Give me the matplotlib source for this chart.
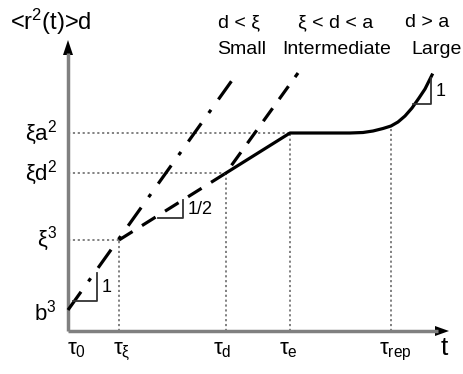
import matplotlib
matplotlib.use("Agg")
import matplotlib.pyplot as plt

plt.rcParams['font.family'] = ['Liberation Sans', 'DejaVu Sans']
plt.rcParams['mathtext.fontset'] = 'custom'
plt.rcParams['mathtext.rm'] = 'Liberation Sans'
plt.rcParams['mathtext.it'] = 'Liberation Sans'

# characteristic times (x positions, log scale units)
tau_labels = [r'$\mathregular{\tau_0}$', r'$\mathregular{\tau_\xi}$', r'$\mathregular{\tau_d}$',
              r'$\mathregular{\tau_e}$', r'$\mathregular{\tau_{rep}}$']
tau_pos = [0, 51, 158, 222, 323]

# characteristic levels (y positions)
level_labels = [r'$\mathregular{b^3}$', r'$\mathregular{\xi^3}$',
                r'$\mathregular{\xi d^2}$', r'$\mathregular{\xi a^2}$']
level_pos = [21, 91, 158, 198]

# regime headers
regime_cond = ['d < ξ', 'ξ < d < a', 'd > a']
regime_name = ['Small', 'Intermediate', 'Large']
regime_x = [171, 268, 359]
regime_name_x = [174, 269, 369]

# curves
dashdot_x = [0, 165]
dashdot_y = [21, 252]
dashed_x = [51, 158, 230]
dashed_y = [91, 158, 258]
solid_x = [158, 222, 282, 295, 305, 315, 323, 330, 337, 344, 351, 357, 364]
solid_y = [158, 198, 198, 198.5, 200, 202.5, 205, 209, 215, 223, 233, 242, 256]

# slope triangles: (x0, x1, y0, y1, label)
tri = [(5, 29, 30, 58, '1'), (90, 115, 113, 131, '1/2'), (345, 363, 227, 253, '1')]

fig = plt.figure(figsize=(4.64, 3.74), dpi=100)
ax = fig.add_axes([0, 0, 1, 1])
ax.set_xlim(-68, 396)
ax.set_ylim(-43, 331)
ax.axis('off')

# guide dotted lines
dot_kw = dict(color='#777777', lw=1.3, ls=(0, (1.2, 1.5)))
ax.plot([0, 51], [91, 91], **dot_kw)
ax.plot([0, 158], [158, 158], **dot_kw)
ax.plot([0, 222], [198, 198], **dot_kw)
ax.plot([51, 51], [0, 91], **dot_kw)
ax.plot([158, 158], [0, 158], **dot_kw)
ax.plot([222, 222], [0, 198], **dot_kw)
ax.plot([323, 323], [0, 205], **dot_kw)

# axes with arrows
ax.plot([0, 0], [0, 278], color='#808080', lw=2.5, solid_capstyle='butt')
ax.plot([0, 370], [0, 0], color='#808080', lw=2.5, solid_capstyle='butt')
ax.fill([-5, 5, 0], [276, 276, 291], color='black', lw=0)
ax.fill([367, 367, 381], [-5, 5, 0], color='black', lw=0)

# curves
ax.plot(dashdot_x, dashdot_y, color='black', lw=2.3, ls=(0, (7, 4, 1.2, 4)))
ax.plot(dashed_x, dashed_y, color='black', lw=2.3, ls=(0, (5, 3.5)))
ax.plot(solid_x, solid_y, color='black', lw=2.3, solid_joinstyle='round')

for x0, x1, y0, y1, lab in tri:
    ax.plot([x0, x1, x1], [y0, y0, y1], color='#333333', lw=1.3)
    ax.text(x1 + 5, (y0 + y1) / 2, lab, fontsize=13, ha='left', va='center')

# labels
fs = 16
ax.text(-58, 301, r'<r$^{\mathregular{2}}$(t)>d', fontsize=17, ha='left', va='baseline')
level_base = [11, 85, 151, 191]
for lab, yb in zip(level_labels, level_base):
    ax.text(-11, yb, lab, fontsize=fs, ha='right', va='baseline')
tau_left = [-1, 45, 145, 211, 311]
for lab, xl in zip(tau_labels, tau_left):
    ax.text(xl, -23, lab, fontsize=fs, ha='left', va='baseline')
ax.text(373, -24, 't', fontsize=fs + 3, ha='left', va='baseline')

for c, n, x, xn in zip(regime_cond, regime_name, regime_x, regime_name_x):
    ax.text(x, 304, c, fontsize=14, ha='center', va='baseline')
    ax.text(xn, 277, n, fontsize=14, ha='center', va='baseline')

fig.savefig('out.png', dpi=100)
